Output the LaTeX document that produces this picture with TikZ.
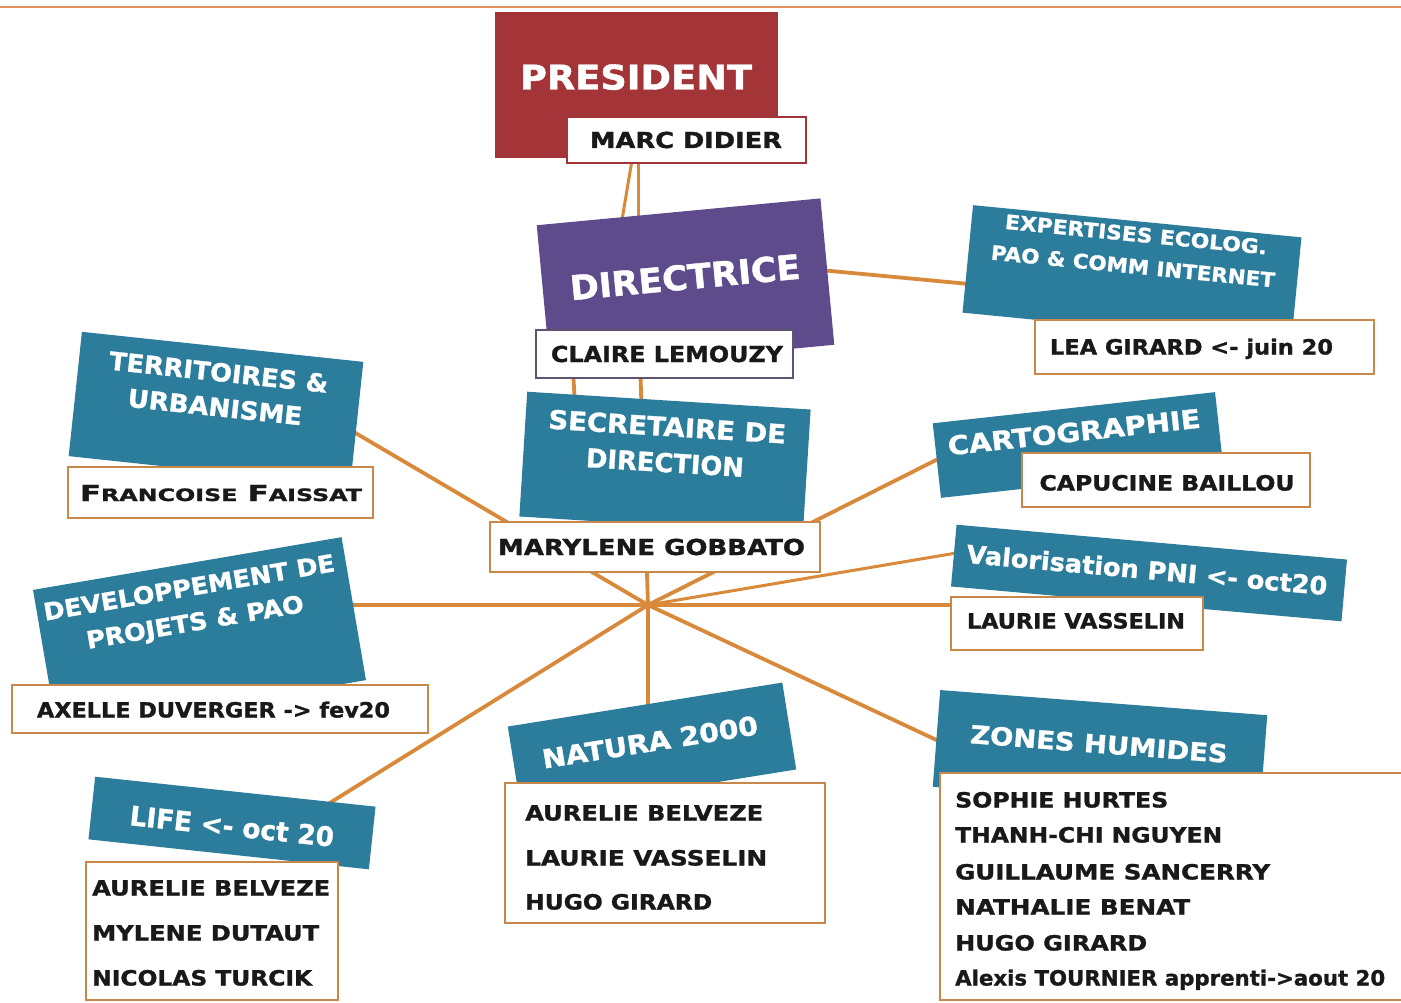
\documentclass[tikz,border=0pt]{standalone}
\usepackage{fontspec}
\setmainfont{DejaVu Sans}[BoldFeatures={FakeBold=1.2}]
\usepackage{graphicx}
\definecolor{tealc}{HTML}{2C7D9B}
\definecolor{redc}{HTML}{A33538}
\definecolor{purplec}{HTML}{5E4B8B}
\definecolor{linec}{HTML}{D9893A}
\definecolor{boxc}{HTML}{C8884A}
\definecolor{topc}{HTML}{E0935A}
\definecolor{clairec}{HTML}{5E5470}
\newcommand\fw[2]{\resizebox{#1pt}{\height}{#2}}
\newcommand\fsz[1]{\fontsize{#1pt}{#1pt}\selectfont}
\begin{document}
\begin{tikzpicture}[x=1pt,y=-1pt,
  conn/.style={draw=linec,line width=3.8pt},
  tealbox/.style={fill=tealc,inner sep=0pt,outer sep=0pt},
  title/.style={text=white,inner sep=0pt,align=center,font={\bfseries\fontsize{25pt}{36pt}\selectfont},text height=18pt,text depth=0pt},
  namebox/.style={draw=boxc,line width=2.2pt,fill=white,inner sep=0pt},
  nm/.style={inner sep=0pt,text=black!90,font={\bfseries\fontsize{21pt}{21pt}\selectfont},text height=15pt,text depth=0pt},
  nmw/.style={nm,anchor=west}]
\useasboundingbox (0,0) rectangle (1401,1003);
\clip (0,0) rectangle (1401,1003);
\fill[white] (0,0) rectangle (1401,1003);
\coordinate (tl) at (0,7);
\coordinate (tr) at (1401,7);
\draw[topc,line width=1.2pt] (tl) -- (tr);

% ---------- connector end points ----------
\coordinate (hub) at (648,605);
\coordinate (eTerr) at (330,418);
\coordinate (eDev) at (340,605);
\coordinate (eLife) at (320,809);
\coordinate (eNat) at (648,720);
\coordinate (eZon) at (960,751);
\coordinate (eLv) at (970,605);
\coordinate (eValo) at (980,549);
\coordinate (eCarto) at (950,453);
\coordinate (eDir) at (638,300);
\coordinate (cs1) at (573,370);
\coordinate (cs2) at (575,405);
\coordinate (md1) at (632,160);
\coordinate (dm1) at (622,220);
\coordinate (md2) at (638,160);
\coordinate (dm2) at (638,220);
\coordinate (de1) at (820,270);
\coordinate (de2) at (980,285);

\draw[conn] (hub) -- (eTerr);
\draw[conn] (hub) -- (eDev);
\draw[conn] (hub) -- (eLife);
\draw[conn] (hub) -- (eNat);
\draw[conn] (hub) -- (eZon);
\draw[conn] (hub) -- (eLv);
\draw[conn,line width=3pt] (hub) -- (eValo);
\draw[conn] (hub) -- (eCarto);
\draw[conn] (hub) -- (eDir);
\draw[conn] (cs1) -- (cs2);
\draw[conn,line width=3pt] (md1) -- (dm1);
\draw[conn,line width=3pt] (md2) -- (dm2);
\draw[conn] (de1) -- (de2);

% ---------- PRESIDENT ----------
\node[fill=redc,inner sep=0pt,minimum width=283pt,minimum height=146pt] (pres) at (636.5,85) {};
\node[title,font={\bfseries\fsz{34}},text height=25pt] (prest) at (636,77) {\fw{232}{PRESIDENT}};
\node[namebox,draw=redc,minimum width=239pt,minimum height=46pt] (marc) at (686.5,140) {};
\node[nm,font={\bfseries\fsz{22}},text height=16pt] (marct) at (686,140) {\fw{192}{MARC DIDIER}};

% ---------- DIRECTRICE ----------
\node[tealbox,fill=purplec,rotate=5.4,minimum width=285pt,minimum height=147pt] (dir) at (685.5,285) {};
\node[title,rotate=5.4,font={\bfseries\fsz{34}},text height=25pt] (dirt) at (685,277) {\fw{231}{DIRECTRICE}};
\node[namebox,draw=clairec,minimum width=257pt,minimum height=48pt] (claire) at (664.5,354) {};
\node[nm,font={\bfseries\fsz{22}},text height=16pt] (clairet) at (667,354) {\fw{232}{CLAIRE LEMOUZY}};

% ---------- SECRETAIRE ----------
\node[tealbox,rotate=-3.6,minimum width=284pt,minimum height=125pt] (sec) at (665,463) {};
\node[title,rotate=-3.6,font={\bfseries\fontsize{26pt}{36pt}\selectfont}] (sect) at (665,463) {\fw{238}{SECRETAIRE DE}\\\fw{158}{DIRECTION}};
\node[namebox,minimum width=330pt,minimum height=50pt] (mary) at (655,547) {};
\node[nm,font={\bfseries\fsz{22}},text height=16pt] (maryt) at (651.5,547) {\fw{307}{MARYLENE GOBBATO}};

% ---------- TERRITOIRES ----------
\node[tealbox,rotate=-6.1,minimum width=283pt,minimum height=125pt] (terr) at (216,409) {};
\node[title,rotate=-6.1,font={\bfseries\fontsize{25pt}{35pt}\selectfont}] (terrt) at (215,407) {\fw{220}{TERRITOIRES \&}\\\fw{175}{URBANISME}};
\node[namebox,minimum width=305pt,minimum height=51pt] (fran) at (220.5,492.5) {};
\node[nm,text height=16pt] (frant) at (221,493) {\fw{282}{{\fsz{22}F}{\fsz{17}RANCOISE} {\fsz{22}F}{\fsz{17}AISSAT}}};

% ---------- EXPERTISES ----------
\node[tealbox,rotate=-5.6,minimum width=330pt,minimum height=108pt] (exp) at (1132,275) {};
\node[title,rotate=-5.6,font={\bfseries\fontsize{20pt}{32pt}\selectfont},text height=15pt] (expt) at (1133,266) {\fw{263}{EXPERTISES ECOLOG.}\\\fw{285}{PAO \& COMM INTERNET}};
\node[namebox,minimum width=339pt,minimum height=54pt] (lea) at (1204.5,347) {};
\node[nm] (leat) at (1191.5,347) {\fw{283}{LEA GIRARD <- juin 20}};

% ---------- CARTOGRAPHIE ----------
\node[tealbox,rotate=6.3,minimum width=284pt,minimum height=75pt] (carto) at (1078,445) {};
\node[title,rotate=6.3,font={\bfseries\fsz{26}},text height=19pt] (cartot) at (1074,432) {\fw{254}{CARTOGRAPHIE}};
\node[namebox,minimum width=288pt,minimum height=54pt] (capu) at (1166,480) {};
\node[nm] (caput) at (1167,483) {\fw{255}{CAPUCINE BAILLOU}};

% ---------- VALORISATION ----------
\node[tealbox,rotate=-5.1,minimum width=392pt,minimum height=62pt] (valo) at (1149,573) {};
\node[title,rotate=-5.1] (valot) at (1147,570) {\fw{362}{Valorisation PNI <- oct20}};
\node[namebox,minimum width=252pt,minimum height=53pt] (lvas) at (1077,623.5) {};
\node[nm] (lvast) at (1076,621) {\fw{218}{LAURIE VASSELIN}};

% ---------- DEVELOPPEMENT ----------
\node[tealbox,rotate=9.7,minimum width=313pt,minimum height=145pt] (dev) at (199.5,635) {};
\node[title,rotate=9.7,font={\bfseries\fontsize{24pt}{35pt}\selectfont},text height=17pt] (devt) at (195,622) {\fw{295}{DEVELOPPEMENT DE}\\\fw{220}{PROJETS \& PAO}};
\node[namebox,minimum width=416pt,minimum height=48pt] (axel) at (220,709) {};
\node[nm] (axelt) at (213.5,710) {\fw{353}{AXELLE DUVERGER -> fev20}};

% ---------- LIFE ----------
\node[tealbox,rotate=-6.1,minimum width=282pt,minimum height=63pt] (life) at (232,823) {};
\node[title,rotate=-6.1,font={\bfseries\fsz{27}},text height=20pt] (lifet) at (232,826) {\fw{205}{LIFE <- oct 20}};
\node[namebox,minimum width=252pt,minimum height=138pt] (lifen) at (212,931) {};
\node[nmw] (l1) at (92,888) {\fw{238}{AURELIE BELVEZE}};
\node[nmw] (l2) at (92,933) {\fw{227}{MYLENE DUTAUT}};
\node[nmw] (l3) at (92,978) {\fw{220}{NICOLAS TURCIK}};

% ---------- NATURA ----------
\node[tealbox,rotate=9.1,minimum width=278pt,minimum height=88pt] (nat) at (652,748) {};
\node[title,rotate=9.1,font={\bfseries\fsz{26}},text height=19pt] (natt) at (650,742) {\fw{218}{NATURA 2000}};
\node[namebox,minimum width=320pt,minimum height=140pt] (natn) at (665,853) {};
\node[nmw] (n1) at (525,813) {\fw{238}{AURELIE BELVEZE}};
\node[nmw] (n2) at (525,858) {\fw{242}{LAURIE VASSELIN}};
\node[nmw] (n3) at (525,902) {\fw{187}{HUGO GIRARD}};

% ---------- ZONES HUMIDES ----------
\node[tealbox,rotate=-4.4,minimum width=328pt,minimum height=97pt] (zon) at (1100,751) {};
\node[title,rotate=-4.4] (zont) at (1099,744) {\fw{258}{ZONES HUMIDES}};
\node[namebox,minimum width=470pt,minimum height=227pt] (zonn) at (1175,886.5) {};
\node[nmw] (z1) at (955,800) {\fw{213}{SOPHIE HURTES}};
\node[nmw] (z2) at (955,835) {\fw{267}{THANH-CHI NGUYEN}};
\node[nmw] (z3) at (955,872) {\fw{315}{GUILLAUME SANCERRY}};
\node[nmw] (z4) at (955,907) {\fw{235}{NATHALIE BENAT}};
\node[nmw] (z5) at (955,943) {\fw{192}{HUGO GIRARD}};
\node[nmw] (z6) at (955,978) {\fw{430}{Alexis TOURNIER apprenti->aout 20}};
\end{tikzpicture}
\end{document}
